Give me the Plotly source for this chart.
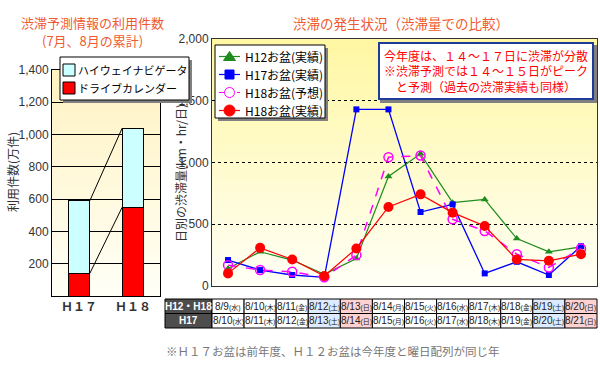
import plotly.graph_objects as go

# ---------------- data ----------------
years = ["Ｈ１７", "Ｈ１８"]
drive_calendar = [140, 550]          # ドライブカレンダー (bottom, red)
highway_navi = [450, 490]            # ハイウェイナビゲータ (top, cyan)
left_ticks = [200, 400, 600, 800, 1000, 1200, 1400]

dates = ["8/9", "8/10", "8/11", "8/12", "8/13", "8/14",
         "8/15", "8/16", "8/17", "8/18", "8/19", "8/20"]
h12_actual = [142, 277, 210, 94, 223, 887, 1070, 675, 701, 384, 277, 317]
h17_actual = [210, 129, 89, 70, 1430, 1430, 599, 661, 102, 196, 89, 322]
h18_forecast = [169, 129, 115, 70, 250, 1042, 1056, 540, 446, 258, 150, 304]
h18_actual = [102, 309, 215, 81, 304, 640, 742, 594, 486, 215, 204, 258]
right_ticks = [0, 500, 1000, 1500, 2000]

row1_label = "H12・H18"
row1_dates = ["8/9", "8/10", "8/11", "8/12", "8/13", "8/14",
              "8/15", "8/16", "8/17", "8/18", "8/19", "8/20"]
row2_label = "H17"
row2_dates = ["8/10", "8/11", "8/12", "8/13", "8/14", "8/15",
              "8/16", "8/17", "8/18", "8/19", "8/20", "8/21"]
weekdays = ["水", "木", "金", "土", "日", "月", "火", "水", "木", "金", "土", "日"]

# ---------------- helpers ----------------
W, H = 600, 370
JP = "Noto Sans CJK JP"
NUM = "Liberation Sans, Noto Sans CJK JP"


def X(p):
    return p / W


def Y(p):
    return 1 - p / H


def lerp_color(c1, c2, t):
    a = [int(c1[i:i + 2], 16) for i in (1, 3, 5)]
    b = [int(c2[i:i + 2], 16) for i in (1, 3, 5)]
    return "rgb(%d,%d,%d)" % tuple(round(a[k] + (b[k] - a[k]) * t) for k in range(3))


# plot areas (pixels)
L_X0, L_X1, L_Y0, L_Y1 = 52, 160, 70, 296
R_X0, R_X1, R_Y0, R_Y1 = 212, 597, 39, 286

shapes = []
annotations = []


def note(text, x, y, size, color, family=JP, xanchor="center", yanchor="middle", **kw):
    d = dict(text=text, x=X(x), y=Y(y), xref="paper", yref="paper", showarrow=False,
             xanchor=xanchor, yanchor=yanchor, font=dict(family=family, size=size, color=color))
    d.update(kw)
    annotations.append(d)


def rect(x0, x1, y0, y1, fill, line_color=None, lw=1, layer="above"):
    shapes.append(dict(type="rect", xref="paper", yref="paper", layer=layer,
                       x0=X(x0), x1=X(x1), y0=Y(y1), y1=Y(y0), fillcolor=fill,
                       line=dict(color=line_color, width=lw) if line_color else dict(width=0)))


def gradient(x0, x1, y0, y1, ctop, cbot, n=50):
    for i in range(n):
        ya = y0 + (y1 - y0) * i / n
        yb = y0 + (y1 - y0) * (i + 1) / n + 0.6
        rect(x0, x1, ya, yb, lerp_color(ctop, cbot, (i + 0.5) / n), layer="below")


gradient(L_X0, L_X1, L_Y0, L_Y1, "#FFF2C0", "#FFFFF7")
gradient(R_X0, R_X1, R_Y0, R_Y1, "#FFF7A2", "#FFFFF6")

fig = go.Figure()

# ---------------- left chart ----------------
bw = 0.4
fig.add_trace(go.Bar(x=[0, 1], y=drive_calendar, width=bw, name="ドライブカレンダー",
                     marker=dict(color="#FF0000", line=dict(color="#000", width=1)),
                     xaxis="x", yaxis="y", showlegend=False))
fig.add_trace(go.Bar(x=[0, 1], y=highway_navi, width=bw, name="ハイウェイナビゲータ",
                     marker=dict(color="#CCFFFF", line=dict(color="#000", width=1)),
                     xaxis="x", yaxis="y", showlegend=False))
totals = [drive_calendar[i] + highway_navi[i] for i in range(2)]
for series in (totals, drive_calendar):
    fig.add_trace(go.Scatter(x=[0 + bw / 2, 1 - bw / 2], y=series, mode="lines",
                             line=dict(color="#000", width=1), xaxis="x", yaxis="y",
                             showlegend=False, hoverinfo="skip"))

# ---------------- right chart ----------------
fig.add_trace(go.Scatter(x=dates, y=h12_actual, mode="lines+markers", name="H12お盆(実績)",
                         line=dict(color="#1E8C1E", width=1.2),
                         marker=dict(symbol="triangle-up", size=7, color="#1E8C1E"),
                         xaxis="x2", yaxis="y2", showlegend=False))
fig.add_trace(go.Scatter(x=dates, y=h17_actual, mode="lines+markers", name="H17お盆(実績)",
                         line=dict(color="#0000FF", width=1.3),
                         marker=dict(symbol="square", size=6, color="#0000FF"),
                         xaxis="x2", yaxis="y2", showlegend=False))
fig.add_trace(go.Scatter(x=dates, y=h18_forecast, mode="lines+markers", name="H18お盆(予想)",
                         line=dict(color="#FF00FF", width=1.5, dash="dash"),
                         marker=dict(symbol="circle-open", size=9, color="#FF00FF",
                                     line=dict(width=1.5)),
                         xaxis="x2", yaxis="y2", showlegend=False))
fig.add_trace(go.Scatter(x=dates, y=h18_actual, mode="lines+markers", name="H18お盆(実績)",
                         line=dict(color="#FF0000", width=1.2),
                         marker=dict(symbol="circle", size=10, color="#FF0000"),
                         xaxis="x2", yaxis="y2", showlegend=False))

# ---------------- titles ----------------
title_color = "#F05A30"
note("渋滞予測情報の利用件数", 92, 22, 13, title_color)
note("(7月、8月の累計)", 92, 41, 13, title_color)
note("渋滞の発生状況（渋滞量での比較）", 401, 23, 13.5, title_color)

# axis titles
note("利用件数(万件)", 12, 172, 12, "#333", textangle=-90)
note("日別の渋滞量(km・hr/日)", 180, 173, 12, "#333", textangle=-90)

# ---------------- left legend (manual) ----------------
rect(63, 192, 60, 103, "#808080")
rect(60, 189, 57, 100, "#FFFFFF", "#000")
for (lab, col), cy in zip([("ハイウェイナビゲータ", "#CCFFFF"), ("ドライブカレンダー", "#FF0000")],
                          [70, 88]):
    rect(63, 75, cy - 6, cy + 6, col, "#000")
    note(lab, 76, cy, 11, "#000", xanchor="left")

# ---------------- right legend (manual) ----------------
rect(218, 328, 48, 121, "#808080")
rect(215, 325, 45, 118, "#FFFFFF", "#000")
leg = [("H12お盆(実績)", "#1E8C1E", "solid", "tri"),
       ("H17お盆(実績)", "#0000FF", "solid", "sq"),
       ("H18お盆(予想)", "#FF00FF", "dash", "ocirc"),
       ("H18お盆(実績)", "#FF0000", "solid", "circ")]
for (lab, col, dash, sym), cy in zip(leg, [56.5, 74.5, 92.5, 110.5]):
    shapes.append(dict(type="line", xref="paper", yref="paper", layer="above",
                       x0=X(219), x1=X(240), y0=Y(cy), y1=Y(cy),
                       line=dict(color=col, width=1.2, dash="dash" if dash == "dash" else "solid")))
    cx = 229.5
    if sym == "tri":
        shapes.append(dict(type="path", xref="paper", yref="paper", layer="above",
                           path="M %f,%f L %f,%f L %f,%f Z" % (X(cx - 6), Y(cy + 4), X(cx + 6), Y(cy + 4),
                                                                X(cx), Y(cy - 5)),
                           fillcolor=col, line=dict(color=col, width=1)))
    elif sym == "sq":
        rect(cx - 4.5, cx + 4.5, cy - 4.5, cy + 4.5, col, col)
    elif sym == "ocirc":
        shapes.append(dict(type="circle", xref="paper", yref="paper", layer="above",
                           x0=X(cx - 5), x1=X(cx + 5), y0=Y(cy + 5), y1=Y(cy - 5),
                           fillcolor="#FFFFFF", line=dict(color=col, width=1)))
    else:
        shapes.append(dict(type="circle", xref="paper", yref="paper", layer="above",
                           x0=X(cx - 5.5), x1=X(cx + 5.5), y0=Y(cy + 5.5), y1=Y(cy - 5.5),
                           fillcolor=col, line=dict(color=col, width=1)))
    note(lab, 243, cy, 12, "#000", xanchor="left")

# ---------------- note box ----------------
rect(380, 597, 45, 103, "#808080")
note("今年度は、１４～１７日に渋滞が分散<br>※渋滞予測では１４～１５日がピーク<br>と予測（過去の渋滞実績も同様）",
     485.5, 71, 12, "#FF0000", width=206, height=48, borderpad=3, borderwidth=2,
     bordercolor="#1F3C99", bgcolor="#FFFFFF", align="center")

# ---------------- date table ----------------
T_TOP, T_MID, T_BOT = 299, 313.5, 328
LABEL_X0 = 165
cw = (R_X1 - R_X0) / len(dates)
for (lab, ds, y0, y1) in [(row1_label, row1_dates, T_TOP, T_MID), (row2_label, row2_dates, T_MID, T_BOT)]:
    rect(LABEL_X0, R_X0, y0, y1, "#4D4D4D", "#000")
    note("<b>%s</b>" % lab, (LABEL_X0 + R_X0) / 2, (y0 + y1) / 2, 10, "#FFFFFF", family=NUM)
    for i, (d, wd) in enumerate(zip(ds, weekdays)):
        fill = "#DCEBFF" if wd == "土" else ("#FFD2D2" if wd == "日" else "#FFFFFF")
        xa = R_X0 + i * cw
        rect(xa, xa + cw, y0, y1, fill, "#000")
        note("%s<span style='font-size:7px'>(%s)</span>" % (d, wd), xa + cw / 2, (y0 + y1) / 2,
             10, "#222", family=NUM)

note("※Ｈ１７お盆は前年度、Ｈ１２お盆は今年度と曜日配列が同じ年", 164, 351, 11.5, "#777",
     xanchor="left")

# ---------------- layout ----------------
fig.update_layout(
    width=W, height=H, margin=dict(l=0, r=0, t=0, b=0, autoexpand=False),
    paper_bgcolor="#FFFFFF", plot_bgcolor="rgba(0,0,0,0)",
    barmode="stack", showlegend=False,
    shapes=shapes, annotations=annotations,
    xaxis=dict(domain=[X(L_X0), X(L_X1)], range=[-0.5, 1.5], tickvals=[0, 1],
               ticktext=["<b>%s</b>" % y for y in years], showgrid=False, zeroline=False,
               showline=True, linecolor="#000", linewidth=1, mirror=True, ticks="",
               tickfont=dict(family=JP, size=12, color="#333"), anchor="y"),
    yaxis=dict(domain=[Y(L_Y1), Y(L_Y0)], range=[0, 1400], tickvals=left_ticks,
               ticktext=["{:,}".format(v) for v in left_ticks], showgrid=True,
               gridcolor="#000", gridwidth=1, zeroline=False, showline=True, linecolor="#000",
               mirror=True, ticks="", tickfont=dict(family=NUM, size=12, color="#333"),
               anchor="x"),
    xaxis2=dict(domain=[X(R_X0), X(R_X1)], type="category", categoryorder="array",
                categoryarray=dates, range=[-0.5, len(dates) - 0.5], showticklabels=False,
                showgrid=False, zeroline=False, showline=True, linecolor="#333", linewidth=1,
                mirror=True, ticks="", anchor="y2"),
    yaxis2=dict(domain=[Y(R_Y1), Y(R_Y0)], range=[0, 2000], tickvals=right_ticks,
                ticktext=["{:,}".format(v) for v in right_ticks], showgrid=True,
                gridcolor="#000", gridwidth=1, griddash="dot", zeroline=False, showline=True,
                linecolor="#333", linewidth=1, mirror=True, ticks="",
                tickfont=dict(family=NUM, size=12, color="#333"), anchor="x2"),
)

fig.write_html("out.html", config={"displayModeBar": False},
               post_script="document.body.style.margin='0';")
